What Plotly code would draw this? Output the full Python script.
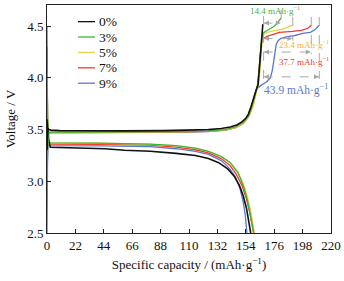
import plotly.graph_objects as go

# ---------------- data ----------------
labels = ["0%", "3%", "5%", "7%", "9%"]
colors = ["#111111", "#3cb43c", "#e8d048", "#f23a2a", "#5a78d0"]

# charge curves (capacity, voltage)
chg_x_0 = [0, 0.3, 0.8, 1.5, 3, 10, 30, 60, 90, 110, 125, 135, 142, 147, 151, 154, 156, 158, 160, 161.5, 162.5, 163.5, 164.5, 165.5, 166.5, 167.2]
chg_y_0 = [3.30, 3.45, 3.515, 3.50, 3.495, 3.49, 3.488, 3.488, 3.49, 3.495, 3.50, 3.51, 3.525, 3.545, 3.575, 3.61, 3.65, 3.72, 3.81, 3.87, 3.90, 3.93, 4.08, 4.25, 4.40, 4.52]

chg_x_3 = [0, 0.4, 1.2, 3, 20, 60, 100, 125, 138, 146, 152, 156, 159, 161, 163, 164.5, 165.5, 166.5, 168, 172, 176, 179, 181.4]
chg_y_3 = [2.85, 3.30, 3.47, 3.475, 3.475, 3.475, 3.48, 3.485, 3.50, 3.525, 3.57, 3.63, 3.73, 3.83, 3.93, 4.10, 4.28, 4.41, 4.44, 4.47, 4.50, 4.54, 4.58]

chg_x_5 = [0, 0.4, 1.2, 3, 20, 60, 100, 125, 138, 146, 152, 157, 160, 162, 164, 165.5, 166.5, 168, 175, 182, 187, 190.4]
chg_y_5 = [3.00, 3.32, 3.47, 3.475, 3.475, 3.475, 3.478, 3.483, 3.495, 3.52, 3.56, 3.64, 3.74, 3.85, 3.95, 4.15, 4.35, 4.43, 4.455, 4.47, 4.49, 4.51]

chg_x_7 = [0, 0.4, 1.2, 3, 20, 60, 100, 125, 138, 146, 152, 156.5, 159.5, 161.5, 163.5, 165, 166.5, 170, 180, 190, 197, 202, 204.7]
chg_y_7 = [3.10, 3.35, 3.47, 3.472, 3.472, 3.472, 3.476, 3.482, 3.495, 3.52, 3.56, 3.63, 3.73, 3.84, 3.95, 4.20, 4.37, 4.40, 4.44, 4.45, 4.46, 4.48, 4.51]

chg_x_9 = [0, 0.4, 1.2, 3, 20, 60, 100, 125, 138, 146, 152, 156, 158.5, 161, 163, 166, 170, 173, 174.5, 175.5, 176.5, 177.5, 179, 181, 186, 192, 198, 204, 208, 210.9]
chg_y_9 = [2.50, 3.20, 3.465, 3.47, 3.47, 3.47, 3.474, 3.48, 3.495, 3.52, 3.56, 3.63, 3.72, 3.85, 3.90, 3.93, 3.96, 4.00, 4.07, 4.15, 4.25, 4.32, 4.36, 4.38, 4.40, 4.41, 4.43, 4.44, 4.47, 4.51]

# discharge curves (capacity, voltage)
dis_x_0 = [0, 0.8, 2.5, 20, 45, 60, 80, 100, 115, 125, 133, 140, 145, 149, 152, 154.5, 156.5, 157.8]
dis_y_0 = [3.60, 3.42, 3.33, 3.325, 3.315, 3.30, 3.29, 3.27, 3.25, 3.22, 3.18, 3.12, 3.05, 2.96, 2.86, 2.74, 2.61, 2.50]

dis_x_3 = [0, 0.5, 1.5, 3, 40, 80, 100, 115, 125, 135, 142, 148, 152, 155, 157.5, 159.5, 160.2]
dis_y_3 = [4.15, 3.60, 3.38, 3.372, 3.37, 3.36, 3.345, 3.32, 3.29, 3.24, 3.18, 3.08, 2.96, 2.83, 2.68, 2.55, 2.50]

dis_x_5 = [0, 0.5, 1.5, 3, 40, 80, 100, 115, 125, 135, 142, 148, 152, 155.5, 158, 160, 160.6]
dis_y_5 = [4.05, 3.55, 3.375, 3.37, 3.368, 3.358, 3.342, 3.318, 3.29, 3.24, 3.18, 3.09, 2.98, 2.84, 2.70, 2.56, 2.50]

dis_x_7 = [0, 0.4, 1.5, 3, 40, 80, 100, 115, 125, 135, 142, 147, 151, 154.5, 157, 159, 160.0]
dis_y_7 = [4.30, 3.60, 3.365, 3.36, 3.358, 3.35, 3.33, 3.305, 3.275, 3.22, 3.15, 3.06, 2.96, 2.83, 2.70, 2.58, 2.50]

dis_x_9 = [0, 0.4, 1.5, 3, 40, 80, 100, 115, 125, 135, 141, 146, 149.5, 152, 153.6, 154.4, 154.8]
dis_y_9 = [4.50, 3.60, 3.35, 3.345, 3.343, 3.335, 3.315, 3.29, 3.26, 3.20, 3.13, 3.04, 2.93, 2.80, 2.67, 2.57, 2.50]

extra_caps = ["14.4", "23.4", "37.7", "43.9"]

x_ticks = list(range(0, 221, 22))
y_ticks = [2.5, 3.0, 3.5, 4.0, 4.5]

charges = [(chg_x_0, chg_y_0), (chg_x_3, chg_y_3), (chg_x_5, chg_y_5), (chg_x_7, chg_y_7), (chg_x_9, chg_y_9)]
discharges = [(dis_x_0, dis_y_0), (dis_x_3, dis_y_3), (dis_x_5, dis_y_5), (dis_x_7, dis_y_7), (dis_x_9, dis_y_9)]

# ---------------- figure ----------------
FONT = "Liberation Serif"
fig = go.Figure()

order = [4, 3, 2, 1, 0]
for i in order:
    w = 1.6 if i == 0 else 1.3
    fig.add_trace(go.Scatter(x=discharges[i][0], y=discharges[i][1], mode="lines",
                             line=dict(color=colors[i], width=w), showlegend=False,
                             hoverinfo="skip"))
for i in order:
    w = 1.6 if i == 0 else 1.3
    fig.add_trace(go.Scatter(x=charges[i][0], y=charges[i][1], mode="lines",
                             line=dict(color=colors[i], width=w), showlegend=False,
                             name=labels[i]))

shapes = []
annotations = []

# extra capacity annotations
ref_x = chg_x_0[-1] + 0.6
arrow_levels = [4.53, 4.38, 4.25, 4.01]
label_pos = [(177, 4.655, 9), (199, 4.33, 9), (199, 4.16, 9), (193, 3.89, 11.5)]
grey = "#a8a8a8"
shapes.append(dict(type="line", xref="x", yref="y", x0=ref_x, x1=ref_x, y0=4.60, y1=3.99,
                   line=dict(color=grey, width=1, dash="dash")))
for k in range(4):
    end_x = charges[k + 1][0][-1]
    yl = arrow_levels[k]
    shapes.append(dict(type="line", xref="x", yref="y", x0=ref_x, x1=end_x, y0=yl, y1=yl,
                       line=dict(color=grey, width=1, dash="dash")))
    shapes.append(dict(type="line", xref="x", yref="y", x0=end_x, x1=end_x,
                       y0=charges[k + 1][1][-1] + 0.08, y1=yl - 0.02,
                       line=dict(color=grey, width=1, dash="dash")))
    annotations.append(dict(x=end_x - 0.3, y=yl, ax=end_x - 4, ay=yl, xref="x", yref="y",
                            axref="x", ayref="y", text="", showarrow=True, arrowhead=2,
                            arrowsize=1, arrowwidth=1, arrowcolor=grey))
    annotations.append(dict(x=ref_x + 0.3, y=yl, ax=ref_x + 4, ay=yl, xref="x", yref="y",
                            axref="x", ayref="y", text="", showarrow=True, arrowhead=2,
                            arrowsize=1, arrowwidth=1, arrowcolor=grey))
    lx, ly, fs = label_pos[k]
    annotations.append(dict(x=lx, y=ly, xref="x", yref="y", showarrow=False,
                            text=extra_caps[k] + " mAh·g<sup>−1</sup>",
                            font=dict(family=FONT, size=fs, color=colors[k + 1] if k != 1 else "#f0b030")))

# manual legend
L0, L1, TX = 0.109, 0.169, 0.176
top, step = 0.927, 0.0675
for i in range(5):
    yy = top - i * step
    shapes.append(dict(type="line", xref="paper", yref="paper", x0=L0, x1=L1, y0=yy, y1=yy,
                       line=dict(color=colors[i], width=1.3)))
    annotations.append(dict(x=TX, y=yy, xref="paper", yref="paper", xanchor="left",
                            yanchor="middle", showarrow=False, text=labels[i],
                            font=dict(family=FONT, size=13.5, color="#111111")))

fig.update_layout(
    width=344, height=281,
    margin=dict(l=47, r=13, t=5, b=48, autoexpand=False),
    paper_bgcolor="white", plot_bgcolor="white",
    font=dict(family=FONT, size=12, color="#111111"),
    showlegend=False,
    shapes=shapes, annotations=annotations,
)
fig.update_xaxes(range=[0, 220], tickvals=x_ticks, ticks="inside", ticklen=4,
                 tickcolor="#222", showgrid=False, zeroline=False, showline=True,
                 linecolor="#222", linewidth=1, mirror=True, automargin=False,
                 tickfont=dict(family=FONT, size=13),
                 title=dict(text="Specific capacity / (mAh·g<sup>−1</sup>)",
                            font=dict(family=FONT, size=13), standoff=8))
fig.update_yaxes(range=[2.5, 4.705], tickvals=y_ticks, ticktext=["2.5", "3.0", "3.5", "4.0", "4.5"],
                 ticks="inside", ticklen=4, tickcolor="#222", showgrid=False, zeroline=False,
                 showline=True, linecolor="#222", linewidth=1, mirror=True, automargin=False,
                 tickfont=dict(family=FONT, size=13),
                 title=dict(text="Voltage / V", font=dict(family=FONT, size=13), standoff=8))

fig.write_html("out.html", config={"displayModeBar": False},
               post_script="document.body.style.margin='0';document.body.style.overflow='hidden';")
